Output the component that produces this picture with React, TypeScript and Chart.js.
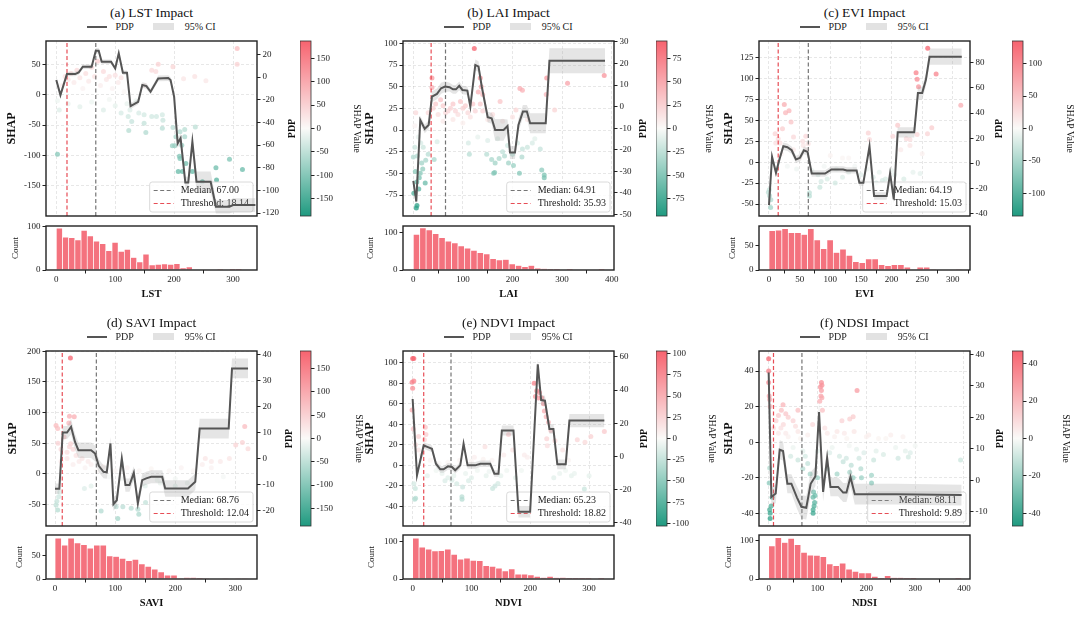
import React, { useEffect, useRef } from "react";
import { Chart, registerables } from "chart.js";

Chart.register(...registerables);

const SERIF = '"Liberation Serif", "Times New Roman", Times, serif';
Chart.defaults.font.family = SERIF;
Chart.defaults.color = "#222";

// ---------------- (a) LST ----------------
const lstPdpX = [0, 7, 18, 25, 32, 38, 45, 60, 67, 72, 77, 93, 100, 106, 113, 120, 126, 139, 146, 153, 160, 173, 190, 194, 200, 206, 211, 219, 224, 231, 238, 262, 271, 294, 300, 338];
const lstPdpY = [-2.6, -15.9, 2.6, 2.6, 2.6, 4, 9.1, 9.1, 23.2, 23.2, 13.5, 13.5, 7.6, 20.9, 3.8, 3.8, -25.6, -21.8, -7, -8, -13, -1.2, -0.9, -2.6, -17.4, -58.5, -54, -93, -93, -57, -92.4, -92.4, -114.4, -114.4, -113, -113];
const lstCi = [2, 2, 2, 2, 2, 2, 2, 2, 2.5, 2.5, 2, 2, 2, 2.5, 2, 2, 2.5, 2.5, 2.5, 2.5, 2.5, 2.5, 2.5, 2.5, 3, 4, 4, 5, 5, 5, 9, 9, 6, 6, 6, 6];
const lstShap: number[][] = [
  [307, 76], [307, 50], [173, 50], [198, 46], [162, 40], [169, 38], [216, 26], [254, 23], [235, 30],
  [122, -36], [128, -44], [149, -33], [162, -36], [170, -36], [180, -33], [181, -42], [123, -59], [149, -47], [152, -62], [180, -55],
  [198, -54], [218, -57], [236, -53], [203, -69], [210, -61], [197, -84], [201, -84], [213, -83], [218, -69], [209, -101],
  [210, -105], [207, -126], [214, -126], [231, -126], [220, -113], [271, -120], [272, -140], [294, -106], [316, -123], [248, -143],
  [2, -10], [5, -25], [10, 15], [15, 30], [20, 25], [25, 35], [30, 20], [35, 40], [40, 28], [45, 10], [50, 35], [55, 22], [60, 45],
  [65, 30], [70, 55], [75, 15], [80, 38], [85, 25], [90, 30], [95, 10], [100, 32], [105, 20], [110, 28], [115, 5], [120, -15],
  [20, -15], [40, -20], [60, -12], [80, -25], [100, -18], [110, -30], [125, -25], [135, -10], [140, -30], [150, 15], [90, -8], [2, -98],
];
const lstHist = [97, 76, 75, 70, 92, 79, 67, 61, 45, 64, 43, 48, 29, 19, 37, 12, 13, 14, 13, 15, 5, 7, 0, 0, 0, 0, 1, 0, 2, 2];
const lstShapTicks = [-150, -100, -50, 0, 50];
const lstPdpTicks = [-120, -100, -80, -60, -40, -20, 0, 20];
const lstCbTicks = [-150, -100, -50, 0, 50, 100, 150];
const lstXTicks = [0, 100, 200, 300];

// ---------------- (b) LAI ----------------
const laiPdpX = [0, 6, 14, 23, 31, 37.6, 47.7, 56, 64, 73, 80, 86, 92.6, 99, 109, 115, 125, 131.5, 138, 150, 158, 165, 182, 190, 195, 205, 212, 221, 229, 235.6, 267, 274.5, 386.6];
const laiPdpY = [-34.4, -44, -6.2, -10.3, -8.5, 4.6, 5.9, 8.5, 9.3, 9.0, 8, 8, 9.6, 7.7, 7.4, 0, 19.3, 18.5, 9.3, -4.9, -5.4, -10.8, -10.8, -9, -21.3, -21.3, -8.5, -2.3, -2.3, -7.7, -7.7, 21.2, 21.2];
const laiCi = [2, 2, 2, 2, 2, 2.5, 2.5, 2.5, 2.5, 2, 2, 2, 2, 2, 2, 2, 2.5, 2.5, 2.5, 2.5, 2.5, 5, 5, 3, 3, 3, 3, 3, 3, 4.6, 4.6, 5.8, 5.8];
const laiShap: number[][] = [
  [123, 94], [37.6, 60], [37.6, 49], [135, 60], [137, 50], [131, 44], [140, 41], [175, 33], [215, 48], [220, 46], [269, 60], [268, 41],
  [311, 54], [385, 63], [285, 23], [207, 23],
  [0, -31], [4, -48], [7, -60], [6, -90], [7.4, -87], [11, -68], [14, -50], [17, -38], [24, -61], [19, -45], [1, -73], [3, -20], [8, -30],
  [12, -55], [42, -34], [111, -15], [113, -28], [148, -28], [158, -34], [165, -38], [173, -33], [164, -49], [162, -50], [184, -30],
  [192, -38], [202, -41], [214, -50], [219, -31], [256, -22], [259, -46], [264, -52], [264, -55], [48, -13.5],
  [30, 20], [40, 25], [50, 18], [60, 28], [70, 22], [80, 30], [90, 18], [100, 25], [110, 20], [120, 30], [60, 10], [80, 12], [100, 8],
  [140, 22], [150, 12], [160, 18], [180, 10], [200, 15], [230, 12], [170, -10], [190, -18], [150, -12], [130, -8], [210, -15], [230, -20],
  [245, -10], [5, 20], [3, 5], [10, -8],
  [45, 30], [55, 35], [65, 20], [75, 25], [85, 22], [95, 33], [105, 28], [115, 15], [125, 22], [135, 30], [20, -20], [25, -35],
  [30, -28], [15, -15], [180, -25], [200, -28], [220, -22], [240, -15],
];
const laiHist = [95, 112, 107, 97, 86, 77, 72, 64, 58, 52, 46, 43, 30, 27, 28, 16, 12, 9, 12, 5, 3, 2, 1, 0, 1, 0, 0, 0, 0, 1];
const laiShapTicks = [-75, -50, -25, 0, 25, 50, 75, 100];
const laiPdpTicks = [-50, -40, -30, -20, -10, 0, 10, 20, 30];
const laiCbTicks = [-75, -50, -25, 0, 25, 50, 75];
const laiXTicks = [0, 100, 200, 300, 400];

// ---------------- (c) EVI ----------------
const eviPdpX = [0, 5, 11.4, 17, 23.4, 30, 37, 44, 50.6, 57, 63, 69.7, 91.5, 102, 121, 127, 143, 147.5, 154, 164, 171.5, 192, 197.6, 203.6, 210, 237, 243, 250, 256, 262, 314.6];
const eviPdpY = [-33, 5.3, -7.4, 3.2, 13.7, 12.9, 10.5, 3.2, 4.5, 10.5, 9.2, -7.9, -7.9, -4.7, -4.7, -5.5, -5.5, -15.3, -15.3, 13.7, -25.8, -25.8, -7.9, -28.4, 24.7, 24.7, 55.8, 55.8, 66.3, 84.7, 84.7];
const eviCi = [3, 3, 3, 3, 3, 3, 3, 3, 3, 3, 3, 2.5, 2.5, 2.5, 2.5, 2.5, 2.5, 2.5, 2.5, 3, 3, 3, 3, 3, 4, 4, 5, 5, 5, 6.5, 6.5];
const eviShap: number[][] = [
  [259, 136], [240, 107], [241.7, 99], [272.7, 105.5], [244, 90], [313, 68], [265.6, 41], [258.6, 34], [241.7, 33], [210, 44],
  [202, 31], [224, 28], [230, 27], [25, 69], [27, 59], [32.7, 61.5], [36, 48], [10, 34], [11, 23], [18, 23], [60, 31], [162, 35],
  [164, 27], [64, 22], [56, 20],
  [2.7, -54], [0.5, -33], [-1, -36], [66, -36.5], [66, -40.5], [83, -30], [108, -25], [85, -23], [246.6, -13.5], [3, -45], [1, -40],
  [20, 10], [40, 15], [50, 5], [70, -10], [90, -5], [100, 8], [110, -8], [120, 5], [130, -12], [140, -5], [150, -15], [170, -18],
  [180, -12], [190, -20], [200, -10], [215, 15], [230, 20], [250, 10], [80, -15], [130, 5], [160, -8], [30, -5], [45, -8],
  [15, 28], [22, 40], [40, 30], [55, 25], [62, 15], [95, -20], [120, -18], [175, -25], [185, -22], [205, -15], [220, -20], [235, -12],
];
const eviHist = [81, 82, 85, 77, 77, 73, 85, 62, 44, 62, 36, 43, 30, 17, 15, 23, 23, 11, 9, 11, 11, 6, 0, 6, 6, 1, 0, 0, 0, 1];
const eviShapTicks = [-50, -25, 0, 25, 50, 75, 100, 125];
const eviPdpTicks = [-40, -20, 0, 20, 40, 60, 80];
const eviCbTicks = [-100, -50, 0, 50, 100];
const eviXTicks = [0, 50, 100, 150, 200, 250, 300];

// ---------------- (d) SAVI ----------------
const saviPdpX = [0, 7.2, 12.8, 20, 26.7, 33.3, 38.9, 60, 66.7, 72.8, 80.6, 86.1, 92.2, 97.2, 102.8, 111.1, 117.2, 123.9, 131.1, 137.8, 145, 151.7, 160, 178.3, 183.3, 221.1, 233.3, 240.6, 288.9, 294.4, 321.1];
const saviPdpY = [-11.5, -11.5, 10.1, 10.1, 12.3, 6.5, 3.3, 3.3, 2.0, -2.7, -5.0, -5.2, 5.9, -17.4, -15.9, 0.1, -10.1, -10.1, -5.4, -17.1, -8.2, -7.5, -6.9, -6.9, -11.4, -11.4, -8.8, 11.6, 11.6, 34.7, 34.7];
const saviCi = [2, 2, 2.5, 2.5, 3, 3, 3, 3, 3, 2.5, 2.5, 2.5, 2.5, 2.5, 2.5, 2.5, 2.5, 2.5, 2.5, 2.5, 2.5, 2.5, 2.5, 2.5, 3.2, 3.2, 3.2, 3.8, 3.8, 3.8, 3.8];
const saviShap: number[][] = [
  [25.6, 189], [1.7, 79], [4.4, 74], [24, 94], [32, 93], [23, 83], [26, 49], [24, 44], [315.6, 77], [311.7, 51], [321, 41], [300.6, 47],
  [290, 25], [275, 20], [15, 60], [20, 35], [30, 40],
  [1.7, -51], [4.4, -59], [6, -37.5], [3, -45], [8, -30], [76.7, -61], [104.4, -73], [112.8, -54], [126.7, -56.5], [139.4, -66],
  [137.8, -58], [150.6, -47], [101.7, -54], [48.9, -24], [60, -20],
  [10, 20], [20, 25], [30, 15], [40, 20], [50, 10], [60, 15], [70, 5], [80, 12], [90, -5], [100, 5], [110, -8], [120, 10], [130, -10],
  [140, 5], [150, -5], [160, 8], [170, -10], [190, 5], [200, -8], [210, 10], [230, 5], [245, 15], [260, 10], [280, -5],
  [5, 50], [10, 40], [35, 30], [45, 25], [55, 20], [150, -20], [175, -15], [200, -20], [220, -15], [250, 25], [260, 20],
];
const saviHist = [87, 72, 87, 77, 73, 66, 72, 72, 49, 48, 44, 39, 42, 32, 27, 21, 15, 8, 8, 1, 3, 3, 2, 1, 0, 0, 1, 0, 1, 1];
const saviShapTicks = [-50, 0, 50, 100, 150, 200];
const saviPdpTicks = [-20, -10, 0, 10, 20, 30, 40];
const saviCbTicks = [-150, -100, -50, 0, 50, 100, 150];
const saviXTicks = [0, 100, 200, 300];

// ---------------- (e) NDVI ----------------
const ndviPdpX = [0, 7.4, 18.7, 26, 32.8, 39.6, 47, 52.6, 60, 66.8, 72.4, 81, 86.6, 93.4, 106.4, 115, 131.9, 139, 146, 151.7, 171.5, 180, 199.8, 212.8, 218.5, 225, 232.6, 239.4, 246, 260.3, 266.6, 326];
const ndviPdpY = [34.6, -11.4, 6.6, 5.6, 4.6, -4.4, -7.8, -7.8, -6, -6.4, -8.4, -5.4, 7.6, -5.4, -5.4, -4.4, -4.4, -10.4, -10.4, 15.6, 15.6, -33.4, -33.4, 55.6, 34, 33.6, 16.6, 16.6, -4.8, -4.8, 21.6, 21.6];
const ndviCi = [2, 2, 2, 2, 2, 2, 2, 2, 2, 2, 2, 2, 2, 2, 2, 2, 2, 2, 2, 3, 3, 3.5, 3.5, 3, 3, 3, 3, 3, 3, 3, 4, 4];
const ndviShap: number[][] = [
  [0, 104], [2, 104], [-1, 81], [2, 82], [0, 75], [-1, 54], [1, 35.5], [21.5, 37], [22.6, 30], [20, 25], [206.6, 80], [211, 72.6],
  [215.6, 71], [208.8, 67], [214, 65.5], [219.6, 65.5], [222.4, 60], [224, 53], [227, 47.4], [231, 42], [235, 34], [228, 26], [229, 19],
  [242, 24], [280, 25], [293, 22.6], [303, 28], [326, 33], [163, 30], [123, 18], [10, 28], [5, 20],
  [4.5, -22.6], [3.4, -33], [5, -32], [83.8, -30.6], [85, -21], [84, -33], [136, -22.6], [145, -17.7], [66.8, -14.5], [292, -23],
  [2, -18], [140, -20], [150, -10],
  [15, 10], [30, 5], [40, -5], [50, -8], [60, 3], [70, -10], [80, 5], [90, -8], [100, 4], [110, -5], [120, 6], [130, -6], [155, 10],
  [170, 15], [185, -5], [195, 8], [250, -8], [260, -5], [270, -10], [255, 15], [60, -12], [100, -12],
  [10, 15], [25, -10], [45, 2], [55, -15], [75, -18], [95, -15], [105, 8], [125, -10], [135, 5], [160, -5], [175, -12], [190, 10],
  [240, -12], [265, 5], [275, -8], [300, -10],
];
const ndviHist = [109, 85, 80, 75, 76, 80, 66, 53, 56, 50, 49, 36, 34, 29, 22, 27, 13, 13, 11, 7, 4, 7, 3, 4, 2, 1, 1, 1, 0, 1];
const ndviShapTicks = [-40, -20, 0, 20, 40, 60, 80, 100];
const ndviPdpTicks = [-40, -20, 0, 20, 40, 60];
const ndviCbTicks = [-100, -75, -50, -25, 0, 25, 50, 75, 100];
const ndviXTicks = [0, 100, 200, 300];

// ---------------- (f) NDSI ----------------
const ndsiPdpX = [0, 5.5, 14.4, 22.6, 29.4, 38.3, 46.5, 58, 67, 77, 86, 95.7, 103.2, 111.5, 119.7, 126.5, 142.2, 152.5, 159.3, 167.5, 176.4, 261.9, 395.2];
const ndsiPdpY = [34.2, -5.3, -4.2, 9.7, 9.3, -1.1, -1.1, -5.5, -8.4, -8.7, -1.1, 1.3, 21.6, -3.7, 7.1, -2.1, -2.1, -3.9, -3.9, 1.05, -4.4, -4.4, -4.7];
const ndsiCi = [3, 3, 3, 3, 3, 3, 3, 3.5, 3.7, 3.7, 3.7, 3, 3, 3, 3, 3, 3, 3, 3, 3, 3.3, 3.3, 3.3];
const ndsiShap: number[][] = [
  [0, 47], [0, 40], [0, 33.6], [1, 26], [2, 24], [3, 20], [29.4, 21], [26, 18], [108, 33.6], [109, 32], [106, 31], [108, 29], [107, 26],
  [109, 25], [104.6, 23], [181, 29], [166, 13], [173, 14.3], [150, 12], [110, 18], [20, 15], [35, 16], [50, 12],
  [2, -14.6], [1, -23], [2, -38], [3, -40], [3, -43], [5, -36], [7, -31], [91, -38], [93, -36], [94, -34], [91, -31], [92, -28],
  [91, -40], [95, -30], [152.5, -11], [159, -9], [169, -13], [188.7, -15], [190, -20], [210.6, -18.7], [210.6, -23], [166, -17],
  [173, -20], [393, -10], [286, -8.4], [80, -12], [60, -10],
  [10, 8], [20, 5], [30, 10], [40, 3], [50, -3], [60, 6], [70, -5], [80, 4], [120, 5], [130, -3], [140, 6], [160, 2], [180, -4],
  [200, 3], [220, -5], [240, 2], [260, -3], [280, -5], [300, -2], [45, -8], [70, -15], [85, -18],
  [15, 12], [25, 8], [35, 5], [55, 9], [65, 2], [75, -8], [90, 10], [100, -5], [115, 8], [125, -6], [135, 3], [145, -8], [155, 5],
  [165, -2], [175, 6], [185, -9], [195, -6], [205, 4], [215, -10], [225, 2], [235, -7], [250, 4], [265, -9], [275, 3], [290, -6],
  [120, -15], [140, -18], [100, -20], [60, 18], [40, 14],
];
const ndsiHist = [87, 109, 96, 107, 90, 70, 63, 62, 59, 40, 35, 42, 26, 20, 16, 16, 7, 1, 9, 3, 3, 1, 1, 0, 0, 0, 0, 0, 0, 1];
const ndsiShapTicks = [-40, -20, 0, 20, 40];
const ndsiPdpTicks = [-10, 0, 10, 20, 30, 40];
const ndsiCbTicks = [-40, -20, 0, 20, 40];
const ndsiXTicks = [0, 100, 200, 300, 400];

type Panel = {
  key: string; title: string; name: string;
  pdpX: number[]; pdpY: number[]; ci: number[]; shap: number[][]; hist: number[]; bin: number;
  median: number; threshold: number; vmax: number;
  x: number[]; xTicks: number[]; y: number[]; yTicks: number[]; y2: number[]; y2Ticks: number[];
  cbTicks: number[]; histMax: number; histTicks: number[];
};

const panels: Panel[] = [
  { key: "a", title: "(a) LST Impact", name: "LST", pdpX: lstPdpX, pdpY: lstPdpY, ci: lstCi, shap: lstShap, hist: lstHist, bin: 10.5,
    median: 67.0, threshold: 18.14, vmax: 187, x: [-17.5, 340.7], xTicks: lstXTicks, y: [-199.3, 88.2], yTicks: lstShapTicks,
    y2: [-122.6, 31.8], y2Ticks: lstPdpTicks, cbTicks: lstCbTicks, histMax: 102, histTicks: [0, 100] },
  { key: "b", title: "(b) LAI Impact", name: "LAI", pdpX: laiPdpX, pdpY: laiPdpY, ci: laiCi, shap: laiShap, hist: laiHist, bin: 12.87,
    median: 64.91, threshold: 35.93, vmax: 93.5, x: [-20.8, 404.7], xTicks: laiXTicks, y: [-99.2, 102.7], yTicks: laiShapTicks,
    y2: [-50.7, 30.4], y2Ticks: laiPdpTicks, cbTicks: laiCbTicks, histMax: 117, histTicks: [0, 100] },
  { key: "c", title: "(c) EVI Impact", name: "EVI", pdpX: eviPdpX, pdpY: eviPdpY, ci: eviCi, shap: eviShap, hist: eviHist, bin: 10.5,
    median: 64.19, threshold: 15.03, vmax: 135, x: [-16.3, 328], xTicks: eviXTicks, y: [-64.3, 144.8], yTicks: eviShapTicks,
    y2: [-41.6, 97.1], y2Ticks: eviPdpTicks, cbTicks: eviCbTicks, histMax: 90.4, histTicks: [0, 50] },
  { key: "d", title: "(d) SAVI Impact", name: "SAVI", pdpX: saviPdpX, pdpY: saviPdpY, ci: saviCi, shap: saviShap, hist: saviHist, bin: 10.7,
    median: 68.76, threshold: 12.04, vmax: 188, x: [-15, 336], xTicks: saviXTicks, y: [-85.3, 200.5], yTicks: saviShapTicks,
    y2: [-25.8, 41.4], y2Ticks: saviPdpTicks, cbTicks: saviCbTicks, histMax: 93.7, histTicks: [0, 50] },
  { key: "e", title: "(e) NDVI Impact", name: "NDVI", pdpX: ndviPdpX, pdpY: ndviPdpY, ci: ndviCi, shap: ndviShap, hist: ndviHist, bin: 10.87,
    median: 65.23, threshold: 18.82, vmax: 103, x: [-16.4, 342.4], xTicks: ndviXTicks, y: [-59, 111.3], yTicks: ndviShapTicks,
    y2: [-42, 63.6], y2Ticks: ndviPdpTicks, cbTicks: ndviCbTicks, histMax: 117.7, histTicks: [0, 100] },
  { key: "f", title: "(f) NDSI Impact", name: "NDSI", pdpX: ndsiPdpX, pdpY: ndsiPdpY, ci: ndsiCi, shap: ndsiShap, hist: ndsiHist, bin: 13.17,
    median: 68.11, threshold: 9.89, vmax: 46.7, x: [-19.8, 412.3], xTicks: ndsiXTicks, y: [-47.2, 51.3], yTicks: ndsiShapTicks,
    y2: [-14.5, 41], y2Ticks: ndsiPdpTicks, cbTicks: ndsiCbTicks, histMax: 115.6, histTicks: [0, 100] },
];

// ---------------- layout (pixels) ----------------
const M = 8;
const PW = 211, MH = 175, HH = 44, CBW = 11, XH = 31;
const COL_LEFT = [46, 403, 759];
const CB_LEFT = [300, 656, 1012];
const MAIN_TOP = [41, 351];
const HIST_TOP = [226, 535];
const SHAP_OFF = [34, 33, 30, 33, 33, 30];
const PDP_OFF = [35.4, 29.3, 29, 32, 30, 30];
const COUNT_OFF = [31, 33, 27, 27, 32, 31];
const CB_OFF = [45, 41, 46, 47, 44, 42];

const INK = "#222";
const GRID = "rgba(0,0,0,0.12)";
const TEAL = [31, 154, 128];
const WHITE = [250, 250, 248];
const RED = [247, 99, 111];
const HIST_COLOR = "#f4727e";
const MEDIAN_COLOR = "rgba(110,110,110,0.95)";
const THRESH_COLOR = "rgba(228,58,68,0.9)";

const rgb = (c: number[]) => `rgb(${c[0]},${c[1]},${c[2]})`;
function cmap(v: number, vmax: number, a: number) {
  const t = Math.max(-1, Math.min(1, v / vmax));
  const end = t >= 0 ? RED : TEAL;
  const k = Math.abs(t);
  const c = WHITE.map((w, i) => Math.round(w + (end[i] - w) * k));
  return `rgba(${c[0]},${c[1]},${c[2]},${a})`;
}

const setTicks = (vals: number[]) => (scale: any) => {
  scale.ticks = vals.map((v) => ({ value: v }));
};
const fitW = (w: number) => (s: any) => {
  s.width = w;
  s.paddingTop = 0;
  s.paddingBottom = 0;
};
const fitH = (h: number) => (s: any) => {
  s.height = h;
  s.paddingLeft = 0;
  s.paddingRight = 0;
};
const tickOpts = (pad: number) => ({
  font: { size: 9, family: SERIF },
  color: INK,
  padding: pad,
  autoSkip: false,
  maxRotation: 0,
  callback: (v: any) => String(v),
});
const tickGrid = { drawOnChartArea: false, tickColor: INK, tickWidth: 1, tickLength: 3.5 };

function framePlugin(width: number, color: string) {
  return {
    id: "frame",
    afterDatasetsDraw(chart: any) {
      const { ctx, chartArea: a } = chart;
      ctx.save();
      ctx.strokeStyle = color;
      ctx.lineWidth = width;
      ctx.strokeRect(a.left, a.top, a.right - a.left, a.bottom - a.top);
      ctx.restore();
    },
  };
}

function legendPlugin(p: Panel) {
  return {
    id: "refLegend",
    afterDatasetDraw(chart: any, args: any) {
      if (args.index !== 2) return;
      const { ctx, chartArea: a } = chart;
      ctx.save();
      ctx.font = `10px ${SERIF}`;
      const t1 = `Median: ${p.median.toFixed(2)}`;
      const t2 = `Threshold: ${p.threshold.toFixed(2)}`;
      const tw = Math.max(ctx.measureText(t1).width, ctx.measureText(t2).width);
      const w = 31 + tw + 4;
      const h = 30;
      const x = a.right - 4 - w;
      const y = a.bottom - 4 - h;
      ctx.beginPath();
      ctx.roundRect(x, y, w, h, 2.5);
      ctx.fillStyle = "rgba(255,255,255,0.8)";
      ctx.fill();
      ctx.strokeStyle = "#d0d0d0";
      ctx.lineWidth = 0.8;
      ctx.stroke();
      const rows: [string, string, number][] = [
        [t1, MEDIAN_COLOR, y + 8.5],
        [t2, THRESH_COLOR, y + 21.5],
      ];
      for (const [t, c, yy] of rows) {
        ctx.beginPath();
        ctx.setLineDash([4, 2.5]);
        ctx.strokeStyle = c;
        ctx.lineWidth = 1.2;
        ctx.moveTo(x + 4, yy);
        ctx.lineTo(x + 24, yy);
        ctx.stroke();
        ctx.setLineDash([]);
        ctx.fillStyle = INK;
        ctx.textBaseline = "middle";
        ctx.textAlign = "left";
        ctx.fillText(t, x + 31, yy);
      }
      ctx.restore();
    },
  };
}

function sideTitlePlugin(text: string, off: number) {
  return {
    id: "sideTitle",
    afterDraw(chart: any) {
      const { ctx, chartArea: a } = chart;
      ctx.save();
      ctx.translate(a.right + off, (a.top + a.bottom) / 2);
      ctx.rotate(-Math.PI / 2);
      ctx.font = `bold 10px ${SERIF}`;
      ctx.fillStyle = "#111";
      ctx.textAlign = "center";
      ctx.textBaseline = "middle";
      ctx.fillText(text, 0, 0);
      ctx.restore();
    },
  };
}

const baseOpts = (padding: any) => ({
  animation: false,
  responsive: false,
  events: [],
  layout: { padding },
  plugins: { legend: { display: false }, tooltip: { enabled: false } },
});

function mainConfig(p: Panel, lw: number, rw: number, pdpOff: number): any {
  const vline = (v: number) => [{ x: v, y: p.y[0] }, { x: v, y: p.y[1] }];
  return {
    type: "line",
    data: {
      datasets: [
        {
          data: p.shap.map(([x, y]) => ({ x, y })),
          showLine: false,
          pointRadius: 2.5,
          pointBackgroundColor: p.shap.map(([, y]) => cmap(y, p.vmax, 0.75)),
          pointBorderWidth: 0,
          yAxisID: "y",
          order: 60,
        },
        {
          data: vline(p.median),
          borderColor: MEDIAN_COLOR,
          borderWidth: 1.2,
          borderDash: [4, 2.5],
          pointRadius: 0,
          yAxisID: "y",
          order: 50,
        },
        {
          data: vline(p.threshold),
          borderColor: THRESH_COLOR,
          borderWidth: 1.2,
          borderDash: [4, 2.5],
          pointRadius: 0,
          yAxisID: "y",
          order: 40,
        },
        {
          data: p.pdpX.map((x, i) => ({ x, y: p.pdpY[i] - p.ci[i] })),
          borderColor: "rgba(0,0,0,0)",
          borderWidth: 1,
          pointRadius: 0,
          fill: false,
          yAxisID: "y1",
          order: 30,
        },
        {
          data: p.pdpX.map((x, i) => ({ x, y: p.pdpY[i] + p.ci[i] })),
          borderColor: "rgba(0,0,0,0)",
          borderWidth: 1,
          pointRadius: 0,
          fill: "-1",
          backgroundColor: "rgba(150,150,150,0.25)",
          yAxisID: "y1",
          order: 20,
        },
        {
          data: p.pdpX.map((x, i) => ({ x, y: p.pdpY[i] })),
          borderColor: "#555555",
          borderWidth: 2,
          pointRadius: 0,
          tension: 0,
          yAxisID: "y1",
          order: 10,
        },
      ],
    },
    options: {
      ...baseOpts({ top: M, bottom: M, left: 0, right: 0 }),
      scales: {
        x: {
          type: "linear",
          min: p.x[0],
          max: p.x[1],
          afterBuildTicks: setTicks(p.xTicks),
          ticks: { display: false },
          grid: { color: GRID, lineWidth: 0.8, drawTicks: false },
          border: { display: false, dash: [3, 2] },
          afterFit: fitH(0),
        },
        y: {
          type: "linear",
          position: "left",
          min: p.y[0],
          max: p.y[1],
          afterBuildTicks: setTicks(p.yTicks),
          ticks: tickOpts(2),
          grid: { color: GRID, lineWidth: 0.8, tickColor: INK, tickWidth: 1, tickLength: 3.5 },
          border: { display: false, dash: [3, 2] },
          title: { display: true, text: "SHAP", font: { size: 12, weight: "bold" }, color: "#111", padding: 0 },
          afterFit: fitW(lw),
        },
        y1: {
          type: "linear",
          position: "right",
          min: p.y2[0],
          max: p.y2[1],
          afterBuildTicks: setTicks(p.y2Ticks),
          ticks: tickOpts(2),
          grid: tickGrid,
          border: { display: false },
          afterFit: fitW(rw),
        },
      },
    },
    plugins: [legendPlugin(p), framePlugin(1.4, INK), sideTitlePlugin("PDP", pdpOff)],
  };
}

function histConfig(p: Panel, lwh: number): any {
  return {
    type: "bar",
    data: {
      datasets: [
        {
          data: p.hist.map((c, i) => ({ x: p.bin * (i + 0.5), y: c })),
          backgroundColor: HIST_COLOR,
          borderColor: "#ffffff",
          borderWidth: 0.7,
          barPercentage: 1,
          categoryPercentage: 1,
        },
      ],
    },
    options: {
      ...baseOpts({ top: M, bottom: 0, left: 0, right: 16 }),
      scales: {
        x: {
          type: "linear",
          min: p.x[0],
          max: p.x[1],
          offset: false,
          afterBuildTicks: setTicks(p.xTicks),
          ticks: tickOpts(1),
          grid: tickGrid,
          border: { display: false },
          title: { display: true, text: p.name, font: { size: 10.5, weight: "bold" }, color: "#111", padding: 0 },
          afterFit: fitH(XH),
        },
        y: {
          type: "linear",
          min: 0,
          max: p.histMax,
          afterBuildTicks: setTicks(p.histTicks),
          ticks: tickOpts(2),
          grid: tickGrid,
          border: { display: false },
          title: { display: true, text: "Count", font: { size: 9 }, color: "#111", padding: 0 },
          afterFit: fitW(lwh),
        },
      },
    },
    plugins: [framePlugin(1.4, INK)],
  };
}

function cbConfig(p: Panel, cw: number): any {
  return {
    type: "bar",
    data: {
      labels: [""],
      datasets: [
        {
          data: [[-p.vmax, p.vmax]],
          backgroundColor: (c: any) => {
            const { ctx, chartArea } = c.chart;
            if (!chartArea) return "rgba(0,0,0,0)";
            const g = ctx.createLinearGradient(0, chartArea.bottom, 0, chartArea.top);
            g.addColorStop(0, rgb(TEAL));
            g.addColorStop(0.5, rgb(WHITE));
            g.addColorStop(1, rgb(RED));
            return g;
          },
          borderWidth: 0,
          barPercentage: 1,
          categoryPercentage: 1,
        },
      ],
    },
    options: {
      ...baseOpts({ top: M, bottom: M, left: 0, right: 0 }),
      scales: {
        x: { display: false },
        y: {
          position: "right",
          min: -p.vmax,
          max: p.vmax,
          afterBuildTicks: setTicks(p.cbTicks),
          ticks: tickOpts(2),
          grid: tickGrid,
          border: { display: false },
          title: { display: true, text: "SHAP Value", font: { size: 9.5 }, color: "#111", padding: 0 },
          afterFit: fitW(cw),
        },
      },
    },
    plugins: [framePlugin(0.8, "#333")],
  };
}

function ChartCanvas({ left, top, width, height, make }: { left: number; top: number; width: number; height: number; make: () => any }) {
  const ref = useRef<HTMLCanvasElement>(null);
  useEffect(() => {
    const chart = new Chart(ref.current as HTMLCanvasElement, make());
    return () => chart.destroy();
  }, []);
  return (
    <canvas
      ref={ref}
      width={width}
      height={height}
      style={{ position: "absolute", left, top, width, height }}
    />
  );
}

function PanelView({ p, idx }: { p: Panel; idx: number }) {
  const col = idx % 3;
  const row = Math.floor(idx / 3);
  const plotLeft = COL_LEFT[col];
  const mainTop = MAIN_TOP[row];
  const histTop = HIST_TOP[row];
  const cbLeft = CB_LEFT[col];
  const lw = Math.round(SHAP_OFF[idx] + 7.2);
  const rw = Math.round(PDP_OFF[idx] + 8);
  const lwh = Math.round(COUNT_OFF[idx] + 5.4);
  const cw = Math.round(CB_OFF[idx] + 5.7);
  return (
    <>
      <div
        style={{
          position: "absolute",
          left: plotLeft - 50,
          width: PW + 100,
          top: mainTop - 37,
          height: 18,
          lineHeight: "18px",
          textAlign: "center",
          fontFamily: SERIF,
          fontSize: 13.5,
          color: "#111",
          whiteSpace: "nowrap",
        }}
      >
        {p.title}
      </div>
      <div
        style={{
          position: "absolute",
          left: plotLeft,
          width: PW,
          top: mainTop - 20.5,
          height: 12,
          display: "flex",
          justifyContent: "center",
          alignItems: "center",
          fontFamily: SERIF,
          fontSize: 10,
          color: "#222",
          whiteSpace: "nowrap",
        }}
      >
        <span style={{ display: "inline-block", width: 20, height: 2, background: "#555", marginRight: 8 }} />
        <span>PDP</span>
        <span style={{ display: "inline-block", width: 21, height: 7, background: "#e2e2e2", marginLeft: 19, marginRight: 11 }} />
        <span>95% CI</span>
      </div>
      <ChartCanvas
        left={plotLeft - lw}
        top={mainTop - M}
        width={lw + PW + rw}
        height={MH + 2 * M}
        make={() => mainConfig(p, lw, rw, PDP_OFF[idx])}
      />
      <ChartCanvas
        left={plotLeft - lwh}
        top={histTop - M}
        width={lwh + PW + 16}
        height={M + HH + XH}
        make={() => histConfig(p, lwh)}
      />
      <ChartCanvas
        left={cbLeft}
        top={mainTop - M}
        width={CBW + cw}
        height={MH + 2 * M}
        make={() => cbConfig(p, cw)}
      />
    </>
  );
}

export default function App() {
  return (
    <div
      style={{
        position: "absolute",
        left: 0,
        top: 0,
        width: 1080,
        height: 617,
        background: "#ffffff",
        overflow: "hidden",
      }}
    >
      {panels.map((p, i) => (
        <PanelView key={p.key} p={p} idx={i} />
      ))}
    </div>
  );
}
